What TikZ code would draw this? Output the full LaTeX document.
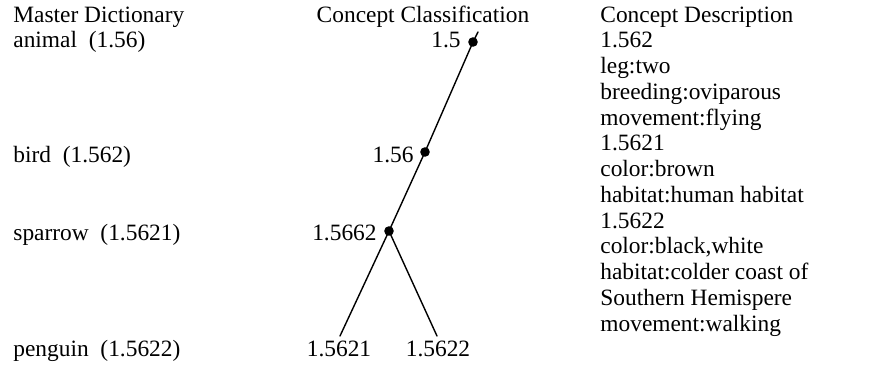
\documentclass[tikz,border=0pt]{standalone}
\usepackage{fontspec}
\setmainfont{Liberation Serif}

\begin{document}
\begin{tikzpicture}[x=0.5pt,y=-0.5pt,line cap=round,
  txt/.style={anchor=base west,inner sep=0pt,font=\fontsize{11.7}{13}\selectfont},
  num/.style={txt,anchor=base east},
  leaf/.style={txt,anchor=base},
  dot/.style={circle,fill=black,inner sep=0pt,minimum size=4.8pt},
  branch/.style={line width=0.7pt}]
\path[use as bounding box] (0,0) rectangle (875,371);
% master dictionary
\node[txt] (mhead) at (13,22) {Master Dictionary};
\node[txt] (manimal) at (13,47) {animal~ (1.56)};
\node[txt] (mbird) at (13,162) {bird~ (1.562)};
\node[txt] (msparrow) at (13,240) {sparrow~ (1.5621)};
\node[txt] (mpenguin) at (13,356) {penguin~ (1.5622)};
% concept classification
\node[leaf] (chead) at (423,22) {Concept Classification};
\coordinate (ctop) at (478,32);
\node[dot] (c15) at (473,42) {};
\node[dot] (c156) at (425,152) {};
\node[dot] (c15662) at (389,231) {};
\coordinate (cleft) at (340,336);
\coordinate (cright) at (437,336);
\draw[branch] (ctop) -- (c15.center) -- (c156.center) -- (c15662.center);
\draw[branch] (c15662.center) -- (cleft);
\draw[branch] (c15662.center) -- (cright);
\node[num] (t15) at (461,47) {1.5};
\node[num] (t156) at (414,162) {1.56};
\node[num] (t15662) at (377,240) {1.5662};
\node[leaf] (t15621) at (339,356) {1.5621};
\node[leaf] (t15622) at (438,356) {1.5622};
% concept description
\foreach \t [count=\i from 0] in {Concept Description,1.562,leg:two,
    breeding:oviparous,movement:flying,1.5621,color:brown,
    habitat:human habitat,1.5622,{color:black,white},
    habitat:colder coast of,Southern Hemispere,movement:walking}
  \node[txt] (d\i) at (600,22+\i*25.75) {\t};
\end{tikzpicture}
\end{document}
